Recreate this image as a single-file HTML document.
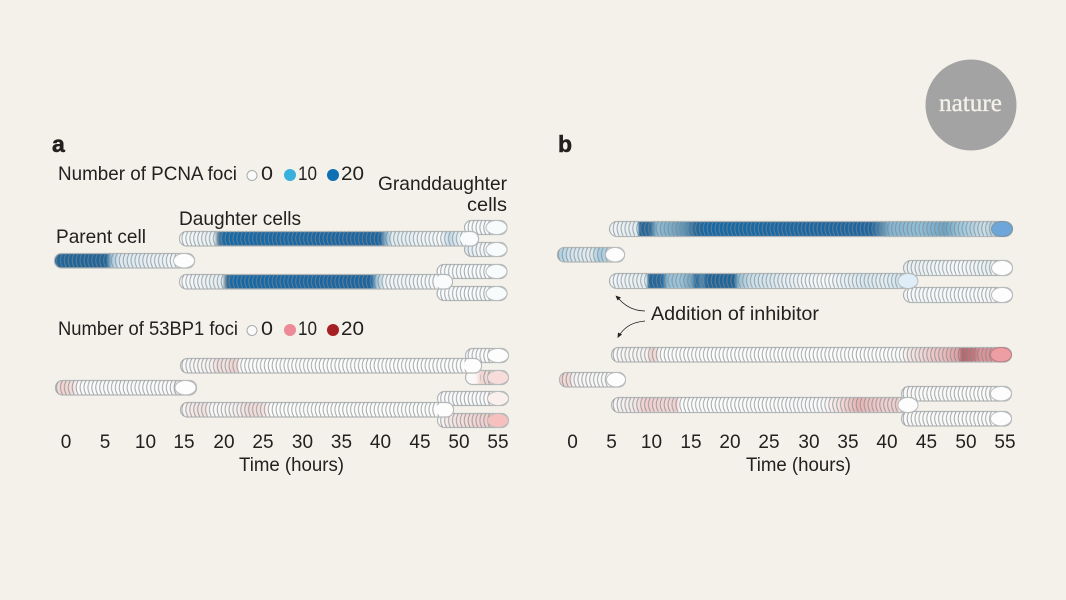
<!DOCTYPE html>
<html lang="en"><head><meta charset="utf-8"><title>PCNA and 53BP1 foci over time</title>
<style>
html,body{margin:0;padding:0;background:#f4f1ea;width:1066px;height:600px;overflow:hidden}
svg{display:block}
text{font-family:"Liberation Sans",sans-serif;font-size:19.5px;fill:#23211f}
.h{font-weight:700;font-size:23px;stroke:#23211f;stroke-width:.5px}
.c{text-anchor:middle;font-size:19px}
.t{fill:url(#cres);stroke:none}
.r{stroke:#b4b7b8;stroke-width:1.2}
.e{stroke:#b9bcbd;stroke-width:1}
</style></head><body>
<svg width="1066" height="600" viewBox="0 0 1066 600" xmlns="http://www.w3.org/2000/svg">
<defs>
<pattern id="cres" patternUnits="userSpaceOnUse" x="0" y="0" width="3.92" height="15">
<path d="M3.9 0.2Q-0.6 7.5 3.9 14.8" fill="none" stroke="#7f878b" stroke-opacity=".72" stroke-width=".95"/>
</pattern>
<linearGradient id="ap" gradientUnits="userSpaceOnUse" x1="0" x2="1000"><stop offset=".054" stop-color="#1f659a"/><stop offset=".106" stop-color="#1f659a"/><stop offset=".112" stop-color="#a9cbdf"/><stop offset=".120" stop-color="#dbe9f1"/><stop offset=".195" stop-color="#f8fafb"/></linearGradient>
<linearGradient id="ad1" gradientUnits="userSpaceOnUse" x1="0" x2="1000"><stop offset=".179" stop-color="#f8fafa"/><stop offset=".214" stop-color="#e6eff3"/><stop offset=".219" stop-color="#4a7a9e"/><stop offset=".224" stop-color="#1569a8"/><stop offset=".380" stop-color="#1d65a0"/><stop offset=".386" stop-color="#8db8d2"/><stop offset=".392" stop-color="#e0edf3"/><stop offset=".440" stop-color="#f6f9fa"/><stop offset=".450" stop-color="#c4dbe8"/><stop offset=".458" stop-color="#e5f0f5"/><stop offset=".479" stop-color="#fbfcfc"/></linearGradient>
<linearGradient id="ad2" gradientUnits="userSpaceOnUse" x1="0" x2="1000"><stop offset=".179" stop-color="#f8fafa"/><stop offset=".222" stop-color="#e3edf1"/><stop offset=".227" stop-color="#3d6f96"/><stop offset=".232" stop-color="#1569a8"/><stop offset=".371" stop-color="#1d65a0"/><stop offset=".377" stop-color="#a5cade"/><stop offset=".385" stop-color="#eef4f6"/><stop offset=".453" stop-color="#fafbfb"/></linearGradient>
<linearGradient id="ag" gradientUnits="userSpaceOnUse" x1="0" x2="1000"><stop offset=".437" stop-color="#f8fafb"/><stop offset=".507" stop-color="#f8fafb"/></linearGradient>
<linearGradient id="ag2" gradientUnits="userSpaceOnUse" x1="0" x2="1000"><stop offset=".464" stop-color="#dbe9f2"/><stop offset=".478" stop-color="#f2f6f8"/><stop offset=".507" stop-color="#f8fafb"/></linearGradient>

<linearGradient id="rp" gradientUnits="userSpaceOnUse" x1="0" x2="1000"><stop offset=".055" stop-color="#f1e4e1"/><stop offset=".062" stop-color="#f1d3d1"/><stop offset=".072" stop-color="#f2dcd9"/><stop offset=".078" stop-color="#fbfafa"/><stop offset=".172" stop-color="#fafafa"/><stop offset=".178" stop-color="#f0d8d5"/><stop offset=".184" stop-color="#f5f1ef"/></linearGradient>
<linearGradient id="rd1" gradientUnits="userSpaceOnUse" x1="0" x2="1000"><stop offset=".180" stop-color="#f9f8f7"/><stop offset=".212" stop-color="#f7f3f1"/><stop offset=".218" stop-color="#f1dbd8"/><stop offset=".226" stop-color="#f3e4e1"/><stop offset=".232" stop-color="#f0d4d1"/><stop offset=".237" stop-color="#f1dbd8"/><stop offset=".240" stop-color="#fcfcfb"/><stop offset=".482" stop-color="#fcfcfb"/></linearGradient>
<linearGradient id="rd2" gradientUnits="userSpaceOnUse" x1="0" x2="1000"><stop offset=".180" stop-color="#f9f8f7"/><stop offset=".196" stop-color="#f3e5e2"/><stop offset=".205" stop-color="#f3e4e1"/><stop offset=".212" stop-color="#fbfafa"/><stop offset=".238" stop-color="#f5efed"/><stop offset=".248" stop-color="#f1dcd9"/><stop offset=".262" stop-color="#f2dfdc"/><stop offset=".270" stop-color="#fcfcfb"/><stop offset=".454" stop-color="#fcfcfb"/></linearGradient>
<linearGradient id="rg" gradientUnits="userSpaceOnUse" x1="0" x2="1000"><stop offset=".437" stop-color="#fbfafa"/><stop offset=".509" stop-color="#fbfafa"/></linearGradient>
<linearGradient id="rg2" gradientUnits="userSpaceOnUse" x1="0" x2="1000"><stop offset=".465" stop-color="#fbfafa"/><stop offset=".476" stop-color="#f9f7f6"/><stop offset=".480" stop-color="#f2d9d6"/><stop offset=".509" stop-color="#f2d6d4"/></linearGradient>
<linearGradient id="rg4" gradientUnits="userSpaceOnUse" x1="0" x2="1000"><stop offset=".437" stop-color="#fbfafa"/><stop offset=".447" stop-color="#f5ebe9"/><stop offset=".470" stop-color="#f3d8d6"/><stop offset=".509" stop-color="#f0c3c1"/></linearGradient>

<linearGradient id="bt1" gradientUnits="userSpaceOnUse" x1="500" x2="1500"><stop offset=".109" stop-color="#f2f6f8"/><stop offset=".137" stop-color="#e2ecf1"/><stop offset=".140" stop-color="#1f659a"/><stop offset=".150" stop-color="#2a6a9c"/><stop offset=".157" stop-color="#8fbcd6"/><stop offset=".172" stop-color="#7aabc8"/><stop offset=".185" stop-color="#5a92b6"/><stop offset=".196" stop-color="#22669b"/><stop offset=".205" stop-color="#1569a8"/><stop offset=".371" stop-color="#1d65a0"/><stop offset=".380" stop-color="#4d85ac"/><stop offset=".390" stop-color="#84b5d2"/><stop offset=".420" stop-color="#90bfd8"/><stop offset=".445" stop-color="#6da4c4"/><stop offset=".460" stop-color="#9cc8de"/><stop offset=".485" stop-color="#cbdfe8"/><stop offset=".500" stop-color="#96c2da"/><stop offset=".513" stop-color="#7fb0d8"/></linearGradient>
<linearGradient id="bp" gradientUnits="userSpaceOnUse" x1="500" x2="1500"><stop offset=".057" stop-color="#a8cde2"/><stop offset=".072" stop-color="#d4e5ee"/><stop offset=".090" stop-color="#e3edf2"/><stop offset=".100" stop-color="#a5cce1"/><stop offset=".125" stop-color="#f5f8f9"/></linearGradient>
<linearGradient id="bt2" gradientUnits="userSpaceOnUse" x1="500" x2="1500"><stop offset=".109" stop-color="#f2f6f8"/><stop offset=".146" stop-color="#e5eff3"/><stop offset=".149" stop-color="#1f659a"/><stop offset=".162" stop-color="#256aa0"/><stop offset=".168" stop-color="#94c0d8"/><stop offset=".180" stop-color="#9ec6dc"/><stop offset=".192" stop-color="#6fa2c2"/><stop offset=".196" stop-color="#256aa0"/><stop offset=".202" stop-color="#4f8ab2"/><stop offset=".207" stop-color="#1f659a"/><stop offset=".234" stop-color="#1f659a"/><stop offset=".239" stop-color="#9bc0d6"/><stop offset=".250" stop-color="#c9dfea"/><stop offset=".280" stop-color="#e0ecf2"/><stop offset=".295" stop-color="#ecf3f6"/><stop offset=".325" stop-color="#f8fafb"/><stop offset=".365" stop-color="#d8e8f0"/><stop offset=".385" stop-color="#e5f0f5"/><stop offset=".400" stop-color="#cfe2ee"/><stop offset=".418" stop-color="#deedf7"/></linearGradient>
<linearGradient id="bg" gradientUnits="userSpaceOnUse" x1="500" x2="1500"><stop offset=".403" stop-color="#e7eff2"/><stop offset=".460" stop-color="#f7fafb"/><stop offset=".490" stop-color="#e6eff2"/><stop offset=".513" stop-color="#f8fafb"/></linearGradient>
<linearGradient id="bg2" gradientUnits="userSpaceOnUse" x1="500" x2="1500"><stop offset=".403" stop-color="#f6f8f9"/><stop offset=".513" stop-color="#f8fafb"/></linearGradient>

<linearGradient id="ct1" gradientUnits="userSpaceOnUse" x1="500" x2="1500"><stop offset=".111" stop-color="#f9f8f7"/><stop offset=".147" stop-color="#f7f3f1"/><stop offset=".151" stop-color="#f1d2cf"/><stop offset=".156" stop-color="#f2dcd9"/><stop offset=".160" stop-color="#fcfcfb"/><stop offset=".400" stop-color="#fcfcfb"/><stop offset=".410" stop-color="#f5e6e3"/><stop offset=".425" stop-color="#f0d2d0"/><stop offset=".445" stop-color="#e9b9b9"/><stop offset=".458" stop-color="#dd9fa1"/><stop offset=".462" stop-color="#b5666c"/><stop offset=".475" stop-color="#c87a7e"/><stop offset=".480" stop-color="#dc9599"/><stop offset=".500" stop-color="#d98c91"/><stop offset=".512" stop-color="#ee9ea3"/></linearGradient>
<linearGradient id="cp" gradientUnits="userSpaceOnUse" x1="500" x2="1500"><stop offset=".059" stop-color="#f2d4d2"/><stop offset=".069" stop-color="#f2dad7"/><stop offset=".074" stop-color="#f8f6f5"/><stop offset=".126" stop-color="#fcfcfb"/></linearGradient>
<linearGradient id="ct2" gradientUnits="userSpaceOnUse" x1="500" x2="1500"><stop offset=".111" stop-color="#f9f8f7"/><stop offset=".134" stop-color="#f3e9e6"/><stop offset=".146" stop-color="#f2cfcd"/><stop offset=".160" stop-color="#f2d6d3"/><stop offset=".172" stop-color="#f2d8d5"/><stop offset=".176" stop-color="#f1cdcb"/><stop offset=".180" stop-color="#fcfcfb"/><stop offset=".325" stop-color="#fbfafa"/><stop offset=".340" stop-color="#f3e0dd"/><stop offset=".358" stop-color="#e8b3b3"/><stop offset=".370" stop-color="#ecc2c2"/><stop offset=".385" stop-color="#f0d0d0"/><stop offset=".398" stop-color="#eecdcb"/><stop offset=".402" stop-color="#fcfcfb"/></linearGradient>
<linearGradient id="cg" gradientUnits="userSpaceOnUse" x1="500" x2="1500"><stop offset=".401" stop-color="#faf9f8"/><stop offset=".512" stop-color="#fcfcfb"/></linearGradient>
</defs>

<rect width="1066" height="600" fill="#f4f1ea"/>
<circle cx="971" cy="105" r="45.5" fill="#a3a3a3"/>
<text x="939" y="111" textLength="63" lengthAdjust="spacingAndGlyphs" style="font-family:'Liberation Serif',serif;font-size:25px;fill:#f3f1ea;stroke:#f3f1ea;stroke-width:.35px">nature</text>

<text class="h" x="52" y="152">a</text>
<text class="h" x="558" y="152">b</text>

<text x="58" y="180" textLength="179" lengthAdjust="spacingAndGlyphs">Number of PCNA foci</text>
<circle cx="252" cy="175.500" r="5" fill="#fafafa" stroke="#a8acae"/>
<text x="261" y="180" textLength="12" lengthAdjust="spacingAndGlyphs">0</text>
<circle cx="290" cy="175" r="6" fill="#38b0de"/>
<text x="298" y="180" textLength="19" lengthAdjust="spacingAndGlyphs">10</text>
<circle cx="333" cy="175" r="6" fill="#0f6fb5"/>
<text x="341" y="180" textLength="23" lengthAdjust="spacingAndGlyphs">20</text>
<text x="378" y="190" textLength="129" lengthAdjust="spacingAndGlyphs">Granddaughter</text>
<text x="467" y="211" textLength="40" lengthAdjust="spacingAndGlyphs">cells</text>
<text x="179" y="225" textLength="122" lengthAdjust="spacingAndGlyphs">Daughter cells</text>
<text x="56" y="243" textLength="90" lengthAdjust="spacingAndGlyphs">Parent cell</text>

<text x="58" y="335" textLength="180" lengthAdjust="spacingAndGlyphs">Number of 53BP1 foci</text>
<circle cx="252" cy="330.500" r="5" fill="#fafafa" stroke="#a8acae"/>
<text x="261" y="335" textLength="12" lengthAdjust="spacingAndGlyphs">0</text>
<circle cx="290" cy="330" r="6" fill="#ec8a98"/>
<text x="298" y="335" textLength="19" lengthAdjust="spacingAndGlyphs">10</text>
<circle cx="333" cy="330" r="6" fill="#a61f24"/>
<text x="341" y="335" textLength="23" lengthAdjust="spacingAndGlyphs">20</text>

<!-- panel a PCNA -->
<g transform="translate(0,220)"><rect class="r" x="464.500" y=".5" width="42.500" height="14" rx="7" fill="url(#ag)"/><rect class="t" x="464.500" y=".5" width="34" height="14" rx="7"/><ellipse class="e" cx="496.500" cy="7.500" rx="10.500" ry="7" fill="#f8fbfc"/></g>
<g transform="translate(0,242)"><rect class="r" x="464.500" y=".5" width="42.500" height="14" rx="7" fill="url(#ag2)"/><rect class="t" x="464.500" y=".5" width="34" height="14" rx="7"/><ellipse class="e" cx="496.500" cy="7.500" rx="10.500" ry="7" fill="#f8fbfc"/></g>
<g transform="translate(0,264)"><rect class="r" x="437" y=".5" width="70" height="14" rx="7" fill="url(#ag)"/><rect class="t" x="437" y=".5" width="62" height="14" rx="7"/><ellipse class="e" cx="496.500" cy="7.500" rx="10.500" ry="7" fill="#f8fbfc"/></g>
<g transform="translate(0,286)"><rect class="r" x="437" y=".5" width="70" height="14" rx="7" fill="url(#ag)"/><rect class="t" x="437" y=".5" width="62" height="14" rx="7"/><ellipse class="e" cx="496.500" cy="7.500" rx="10.500" ry="7" fill="#f8fbfc"/></g>
<g transform="translate(0,231)"><rect class="r" x="179.500" y=".5" width="299" height="14.500" rx="7" fill="url(#ad1)"/><rect class="t" x="179.500" y=".5" width="290" height="14.500" rx="7"/><ellipse cx="469" cy="7.700" rx="9" ry="6.500" fill="#f9fbfc"/></g>
<g transform="translate(0,253)"><rect class="r" x="54.500" y=".5" width="140" height="14.500" rx="7" fill="url(#ap)"/><rect class="t" x="54.500" y=".5" width="130" height="14.500" rx="7"/><ellipse class="e" cx="184" cy="7.700" rx="10.500" ry="7.200" fill="#fdfdfd"/></g>
<g transform="translate(0,274)"><rect class="r" x="179.500" y=".5" width="273" height="14.500" rx="7" fill="url(#ad2)"/><rect class="t" x="179.500" y=".5" width="264" height="14.500" rx="7"/><ellipse cx="443" cy="7.700" rx="9" ry="6.500" fill="#f9fbfc"/></g>

<!-- panel a 53BP1 -->
<g transform="translate(0,348)"><rect class="r" x="465.500" y=".5" width="43" height="14" rx="7" fill="url(#rg)"/><rect class="t" x="465.500" y=".5" width="34" height="14" rx="7"/><ellipse class="e" cx="498" cy="7.500" rx="10.500" ry="7" fill="#fdfdfd"/></g>
<g transform="translate(0,370)"><rect class="r" x="465.500" y=".5" width="43" height="14" rx="7" fill="url(#rg2)"/><rect class="t" x="480" y=".5" width="20" height="14" rx="7"/><ellipse class="e" cx="498" cy="7.500" rx="10.500" ry="7" fill="#f8dcda"/></g>
<g transform="translate(0,391)"><rect class="r" x="437.500" y=".5" width="71" height="14" rx="7" fill="url(#rg)"/><rect class="t" x="437.500" y=".5" width="62" height="14" rx="7"/><ellipse class="e" cx="498" cy="7.500" rx="10.500" ry="7" fill="#f9f0ee"/></g>
<g transform="translate(0,413)"><rect class="r" x="437.500" y=".5" width="71" height="14" rx="7" fill="url(#rg4)"/><rect class="t" x="437.500" y=".5" width="62" height="14" rx="7"/><ellipse class="e" cx="498" cy="7.500" rx="10.500" ry="7" fill="#f5c0be"/></g>
<g transform="translate(0,358)"><rect class="r" x="180.500" y=".5" width="301" height="14.500" rx="7" fill="url(#rd1)"/><rect class="t" x="180.500" y=".5" width="291" height="14.500" rx="7"/><ellipse cx="472" cy="7.700" rx="9" ry="6.500" fill="#fdfdfd"/></g>
<g transform="translate(0,380)"><rect class="r" x="55.500" y=".5" width="141" height="14.500" rx="7" fill="url(#rp)"/><rect class="t" x="55.500" y=".5" width="132" height="14.500" rx="7"/><ellipse class="e" cx="185.500" cy="7.700" rx="10.500" ry="7.200" fill="#fdfdfd"/></g>
<g transform="translate(0,402)"><rect class="r" x="180.500" y=".5" width="273" height="14.500" rx="7" fill="url(#rd2)"/><rect class="t" x="180.500" y=".5" width="263" height="14.500" rx="7"/><ellipse cx="444" cy="7.700" rx="9" ry="6.500" fill="#fdfdfd"/></g>

<!-- panel b PCNA -->
<g transform="translate(0,260)"><rect class="r" x="903.500" y=".5" width="109" height="15" rx="7.500" fill="url(#bg)"/><rect class="t" x="903.500" y=".5" width="100" height="15" rx="7.500"/><ellipse class="e" cx="1002" cy="8" rx="10.500" ry="7.500" fill="#fdfdfd"/></g>
<g transform="translate(0,287)"><rect class="r" x="903.500" y=".5" width="109" height="15" rx="7.500" fill="url(#bg2)"/><rect class="t" x="903.500" y=".5" width="100" height="15" rx="7.500"/><ellipse class="e" cx="1002" cy="8" rx="10.500" ry="7.500" fill="#fdfdfd"/></g>
<g transform="translate(0,221)"><rect class="r" x="609.500" y=".5" width="403" height="15" rx="7.500" fill="url(#bt1)"/><rect class="t" x="609.500" y=".5" width="393" height="15" rx="7.500"/><ellipse cx="1002" cy="8" rx="10.500" ry="7.500" fill="#6ea6d9" stroke="#7b95a8"/></g>
<g transform="translate(0,247)"><rect class="r" x="557.500" y=".5" width="67" height="14.500" rx="7" fill="url(#bp)"/><rect class="t" x="557.500" y=".5" width="57" height="14.500" rx="7"/><ellipse class="e" cx="615" cy="7.700" rx="9.500" ry="7.200" fill="#fdfdfd"/></g>
<g transform="translate(0,273)"><rect class="r" x="609.500" y=".5" width="308" height="15" rx="7.500" fill="url(#bt2)"/><rect class="t" x="609.500" y=".5" width="298" height="15" rx="7.500"/><ellipse class="e" cx="908" cy="8" rx="10" ry="7.500" fill="#deedf7"/></g>

<!-- panel b 53BP1 -->
<g transform="translate(0,386)"><rect class="r" x="901.500" y=".5" width="110" height="14.500" rx="7" fill="url(#cg)"/><rect class="t" x="901.500" y=".5" width="100" height="14.500" rx="7"/><ellipse class="e" cx="1001" cy="7.700" rx="10.500" ry="7.200" fill="#fdfdfd"/></g>
<g transform="translate(0,411)"><rect class="r" x="901.500" y=".5" width="110" height="14.500" rx="7" fill="url(#cg)"/><rect class="t" x="901.500" y=".5" width="100" height="14.500" rx="7"/><ellipse class="e" cx="1001" cy="7.700" rx="10.500" ry="7.200" fill="#fdfdfd"/></g>
<g transform="translate(0,347)"><rect class="r" x="611.500" y=".5" width="400" height="14.500" rx="7" fill="url(#ct1)"/><rect class="t" x="611.500" y=".5" width="390" height="14.500" rx="7"/><ellipse cx="1001" cy="7.700" rx="10.500" ry="7.200" fill="#ee9ea3" stroke="#b98085"/></g>
<g transform="translate(0,372)"><rect class="r" x="559.500" y=".5" width="66" height="14.500" rx="7" fill="url(#cp)"/><rect class="t" x="559.500" y=".5" width="56" height="14.500" rx="7"/><ellipse class="e" cx="616" cy="7.700" rx="9.500" ry="7.200" fill="#fdfdfd"/></g>
<g transform="translate(0,397)"><rect class="r" x="611.500" y=".5" width="306" height="15" rx="7.500" fill="url(#ct2)"/><rect class="t" x="611.500" y=".5" width="296" height="15" rx="7.500"/><ellipse class="e" cx="908" cy="8" rx="10" ry="7.500" fill="#fdfdfd"/></g>

<!-- arrows -->
<path d="M645 311C632 311 624 305 618 298" fill="none" stroke="#23211f" stroke-width=".8"/>
<path d="M615.500 295.500L621 297.500L617.500 300.500Z" fill="#23211f"/>
<path d="M645 321C632 322 624 328 619.500 335" fill="none" stroke="#23211f" stroke-width=".8"/>
<path d="M617.500 338L618 332.500L622 334.500Z" fill="#23211f"/>
<text x="651" y="320" textLength="168" lengthAdjust="spacingAndGlyphs">Addition of inhibitor</text>

<!-- axes -->
<text class="c" x="66" y="448">0</text><text class="c" x="105" y="448">5</text><text class="c" x="145.500" y="448">10</text><text class="c" x="184" y="448">15</text><text class="c" x="224" y="448">20</text><text class="c" x="263" y="448">25</text><text class="c" x="302.500" y="448">30</text><text class="c" x="341.500" y="448">35</text><text class="c" x="380.500" y="448">40</text><text class="c" x="420" y="448">45</text><text class="c" x="459" y="448">50</text><text class="c" x="498" y="448">55</text>
<text x="239" y="471" textLength="105" lengthAdjust="spacingAndGlyphs">Time (hours)</text>
<text class="c" x="572.500" y="448">0</text><text class="c" x="611.500" y="448">5</text><text class="c" x="651.500" y="448">10</text><text class="c" x="691" y="448">15</text><text class="c" x="730" y="448">20</text><text class="c" x="769" y="448">25</text><text class="c" x="809" y="448">30</text><text class="c" x="848" y="448">35</text><text class="c" x="887" y="448">40</text><text class="c" x="926.500" y="448">45</text><text class="c" x="966" y="448">50</text><text class="c" x="1005" y="448">55</text>
<text x="746" y="471" textLength="105" lengthAdjust="spacingAndGlyphs">Time (hours)</text>
</svg>
</body></html>
